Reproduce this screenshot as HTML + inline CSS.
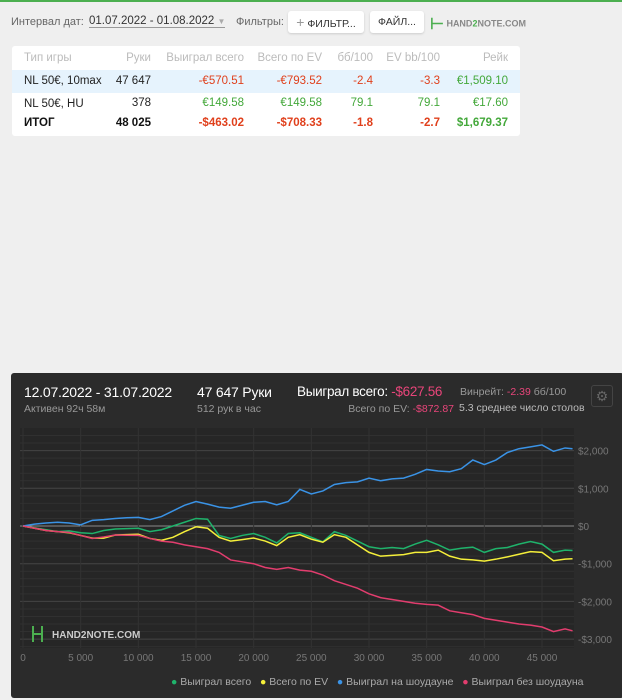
<!DOCTYPE html>
<html><head><meta charset="utf-8"><style>
body{margin:0;width:622px;height:700px;background:#efefef;font-family:"Liberation Sans",sans-serif;position:relative;overflow:hidden}
.a{position:absolute;white-space:nowrap}
.r{text-align:right}
.red{color:#e0401c}.grn{color:#43a83a}
</style></head><body>
<div class="a" style="left:0;top:0;width:622px;height:2px;background:#4caf50"></div>
<div class="a" style="left:11px;top:16px;font-size:11px;color:#666">Интервал дат:</div>
<div class="a" style="left:89px;top:15px;font-size:11.5px;color:#333;border-bottom:1px solid #999">01.07.2022 - 01.08.2022 <span style="color:#aaa;font-size:8px">▼</span></div>
<div class="a" style="left:236px;top:16px;font-size:11px;color:#666">Фильтры:</div>
<div class="a" style="left:288px;top:11px;width:76px;height:22px;background:#fff;border-radius:3px;box-shadow:0 1px 2px #ccc;font-size:10.5px;line-height:22px;text-align:center;color:#333"><span style="color:#999;font-size:14px">+</span> ФИЛЬТР...</div>
<div class="a" style="left:370px;top:11px;width:54px;height:22px;background:#fff;border-radius:3px;box-shadow:0 1px 2px #ccc;font-size:10.5px;line-height:22px;text-align:center;color:#333">ФАЙЛ...</div>
<div class="a" style="left:430px;top:14px;font-size:9px;color:#888;font-weight:bold"><span style="color:#4caf50;font-size:16px;vertical-align:middle">⊢</span> HAND<span style="color:#4caf50">2</span>NOTE.COM</div>

<div class="a" style="left:12px;top:46px;width:508px;height:90px;background:#fff;border-radius:3px;font-size:11.5px">
 <div class="a" style="left:0;top:6px;width:508px;height:20px;color:#bbb">
  <span class="a" style="left:12px">Тип игры</span><span class="a r" style="right:369px">Руки</span><span class="a r" style="right:276px">Выиграл всего</span><span class="a r" style="right:198px">Всего по EV</span><span class="a r" style="right:147px">бб/100</span><span class="a r" style="right:80px">EV bb/100</span><span class="a r" style="right:12px">Рейк</span>
 </div>
 <div class="a" style="left:0;top:24px;width:508px;height:23px;background:#e6f3fd;color:#222">
  <span class="a" style="left:12px;top:5px">NL 50€, 10max</span><span class="a r" style="right:369px;top:5px">47 647</span><span class="a r red" style="right:276px;top:5px">-€570.51</span><span class="a r red" style="right:198px;top:5px">-€793.52</span><span class="a r red" style="right:147px;top:5px">-2.4</span><span class="a r red" style="right:80px;top:5px">-3.3</span><span class="a r grn" style="right:12px;top:5px">€1,509.10</span>
 </div>
 <div class="a" style="left:0;top:47px;width:508px;height:22px;color:#222">
  <span class="a" style="left:12px;top:5px">NL 50€, HU</span><span class="a r" style="right:369px;top:4px">378</span><span class="a r grn" style="right:276px;top:4px">€149.58</span><span class="a r grn" style="right:198px;top:4px">€149.58</span><span class="a r grn" style="right:147px;top:4px">79.1</span><span class="a r grn" style="right:80px;top:4px">79.1</span><span class="a r grn" style="right:12px;top:4px">€17.60</span>
 </div>
 <div class="a" style="left:0;top:69px;width:508px;height:20px;font-weight:bold;color:#111">
  <span class="a" style="left:12px;top:2px">ИТОГ</span><span class="a r" style="right:369px;top:2px">48 025</span><span class="a r red" style="right:276px;top:2px">-$463.02</span><span class="a r red" style="right:198px;top:2px">-$708.33</span><span class="a r red" style="right:147px;top:2px">-1.8</span><span class="a r red" style="right:80px;top:2px">-2.7</span><span class="a r grn" style="right:12px;top:2px">$1,679.37</span>
 </div>
</div>

<div class="a" style="left:11px;top:373px;width:613px;height:325px;background:#2b2b2b;border-radius:3px">
 <div class="a" style="left:13px;top:11px;font-size:14px;color:#fff;letter-spacing:-0.2px">12.07.2022 - 31.07.2022</div>
 <div class="a" style="left:13px;top:30px;font-size:10.5px;color:#999">Активен 92ч 58м</div>
 <div class="a" style="left:186px;top:11px;font-size:14px;color:#fff;letter-spacing:-0.2px">47 647 Руки</div>
 <div class="a" style="left:186px;top:30px;font-size:10.5px;color:#999">512 рук в час</div>
 <div class="a" style="left:286px;top:11px;font-size:13.5px;color:#fff;letter-spacing:-0.3px">Выиграл всего: <span style="color:#e8457a">-$627.56</span></div>
 <div class="a" style="left:449px;top:13px;font-size:10.5px;color:#999">Винрейт: <span style="color:#e8457a">-2.39</span> бб/100</div>
 <div class="a r" style="right:170px;top:30px;font-size:10.5px;color:#999">Всего по EV: <span style="color:#e8457a">-$872.87</span></div>
 <div class="a" style="left:448px;top:29px;width:132px;overflow:hidden;font-size:10.5px;color:#bbb">5.3 среднее число столов</div>
 <div class="a" style="left:580px;top:12px;width:20px;height:20px;border:1px solid #444;border-radius:3px;color:#666;font-size:14px;line-height:20px;text-align:center">⚙</div>
 <div class="a" style="left:160px;top:303px;font-size:10.5px;color:#aaa">
  <span><span style="color:#1fb36b">●</span> Выиграл всего</span>&nbsp;&nbsp;
  <span><span style="color:#f5ef3a">●</span> Всего по EV</span>&nbsp;&nbsp;
  <span><span style="color:#3a93e6">●</span> Выиграл на шоудауне</span>&nbsp;&nbsp;
  <span><span style="color:#e23d6e">●</span> Выиграл без шоудауна</span>
 </div>
</div>
<svg class="a" id="chart" style="left:0;top:0" width="622" height="700"></svg>
<script>
const hands=[0,1000,2000,3000,4000,5000,6000,7000,8000,9000,10000,11000,12000,13000,14000,15000,16000,17000,18000,19000,20000,21000,22000,23000,24000,25000,26000,27000,28000,29000,30000,31000,32000,33000,34000,35000,36000,37000,38000,39000,40000,41000,42000,43000,44000,45000,46000,47000,47647];
const wonTotal=[0,-50,-100,-150,-130,-180,-200,-120,-80,-70,-60,-150,-100,0,100,200,180,-250,-330,-250,-200,-300,-450,-200,-180,-300,-420,-150,-250,-400,-550,-600,-570,-600,-480,-380,-500,-640,-590,-560,-700,-600,-570,-480,-410,-480,-700,-640,-650];
const evTotal=[0,-60,-120,-150,-180,-250,-320,-320,-240,-230,-220,-330,-380,-300,-150,-20,-60,-300,-400,-360,-320,-400,-520,-300,-230,-350,-430,-230,-300,-500,-700,-800,-780,-760,-700,-700,-640,-800,-880,-900,-930,-880,-820,-750,-680,-700,-920,-880,-870];
const showdown=[0,50,80,100,80,30,150,170,200,220,230,170,250,400,550,650,580,500,470,550,630,650,560,650,970,850,930,1100,1150,1170,1270,1200,1250,1270,1370,1500,1460,1440,1520,1750,1630,1750,1950,2050,2100,2150,1980,2070,2050];
const nonShowdown=[0,-60,-120,-150,-170,-250,-330,-290,-240,-245,-250,-330,-400,-430,-500,-550,-600,-700,-900,-950,-1000,-1100,-1150,-1100,-1170,-1200,-1300,-1450,-1550,-1650,-1800,-1900,-1950,-2000,-2050,-2080,-2100,-2250,-2300,-2350,-2450,-2500,-2550,-2600,-2630,-2680,-2800,-2730,-2780];
const xTicks=[0,5000,10000,15000,20000,25000,30000,35000,40000,45000];
const xTickLabels=["0","5 000","10 000","15 000","20 000","25 000","30 000","35 000","40 000","45 000"];
const yTicks=[2000,1000,0,-1000,-2000,-3000];
const yTickLabels=["$2,000","$1,000","$0","-$1,000","-$2,000","-$3,000"];
const svg=document.getElementById('chart');const NS='http://www.w3.org/2000/svg';
const X=v=>23+v*(542-23)/45000, Y=v=>526-v*0.0377;
function mk(t,a){const e=document.createElementNS(NS,t);for(const k in a)e.setAttribute(k,a[k]);svg.appendChild(e);return e;}
const bg=mk('rect',{x:20,y:428,width:554,height:220,fill:'#262626'});


for(let v=-3200;v<=2400;v+=200){const y=Y(v);if(y<428||y>648)continue;const l=mk('line',{x1:20,x2:574,y1:y,y2:y,stroke:v===0?'#8a8a8a':(v%1000===0?'#454545':'#303030'),'stroke-width':1});

}
xTicks.forEach((t,i)=>{const g=mk('line',{x1:X(t),x2:X(t),y1:428,y2:648,stroke:'#323232'});


const tx=mk('text',{x:X(t),y:661,fill:'#777','font-size':10,'text-anchor':'middle','font-family':'Liberation Sans'});tx.textContent=xTickLabels[i];

});
yTicks.forEach((t,i)=>{const tx=mk('text',{x:578,y:Y(t)+4,fill:'#777','font-size':10,'font-family':'Liberation Sans'});tx.textContent=yTickLabels[i];

});
const series=[[wonTotal,'#1fb36b','line-won-total'],[evTotal,'#f5ef3a','line-ev'],[showdown,'#3a93e6','line-showdown'],[nonShowdown,'#e23d6e','line-non-showdown']];
series.forEach(s=>{const p=mk('polyline',{points:hands.map((h,i)=>X(h)+','+Y(s[0][i])).join(' '),fill:'none',stroke:s[1],'stroke-width':1.5});

});
const lg=mk('text',{x:52,y:638,fill:'#ccc','font-size':10,'font-weight':'bold','font-family':'Liberation Sans'});lg.textContent='HAND2NOTE.COM';


const lm=mk('path',{d:'M33 626v16M42 626v16M33 634h9',stroke:'#4caf50','stroke-width':2,fill:'none'});


</script>
</body></html>
